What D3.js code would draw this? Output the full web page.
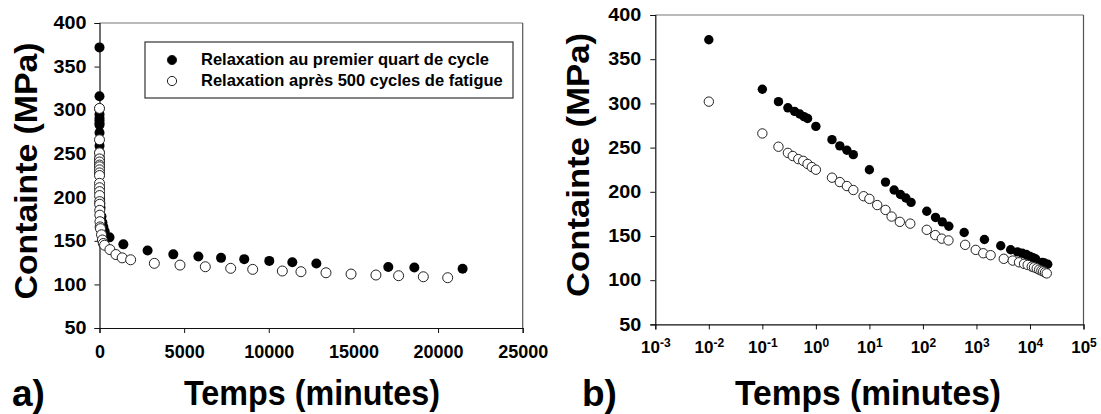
<!DOCTYPE html>
<html><head><meta charset="utf-8">
<script src="https://cdn.jsdelivr.net/npm/d3@7/dist/d3.min.js"></script>
<style>
html,body{margin:0;padding:0;background:#fff;}
svg{display:block;font-family:Arial,"Liberation Sans",sans-serif;}
</style></head>
<body><svg id="c" width="1101" height="414"></svg>
<script>
// Series 1: relaxation au premier quart de cycle (filled)
const filledTime = [0.01,0.1,0.2,0.3,0.4,0.5,0.6,0.7,1.0,2,2.8,3.8,5,10,20,29,38,48,60,118,172,230,305,590,1410,2840,4360,5840,7180,8550,10030,11390,12810,17060,18600,21450];
const filledStress = [372,316,302,295,291,288,285,283,274,259,252,247,242,225,211,202,197,193,188,178,171,166,161,154,146,139,134.5,132,130.5,129,127,125.5,124,120,119.5,118];
// Series 2: relaxation après 500 cycles de fatigue (open)
const openTime = [0.01,0.1,0.2,0.3,0.37,0.47,0.58,0.7,0.84,1.0,2,2.8,3.8,5,7.8,10,14,20,26,37,58,118,170,225,300,615,970,1340,1840,3240,4755,6250,7750,9050,10800,11900,13380,14860,16330,17670,19130,20570];
const openStress = [302,266,251,244,240.5,237,235,231.5,228,225,216,211,206.5,202,195,192,185,179.5,172,166,164,157,151,147,145,140,134.3,130.5,128.3,124.2,122.2,120.3,118.5,117.3,115.4,114.6,113.4,111.9,110.8,110,108.8,107.7];

const seriesNames = ["Relaxation au premier quart de cycle","Relaxation après 500 cycles de fatigue"];
const yTicks = [50,100,150,200,250,300,350,400];
const xTicksLin = [0,5000,10000,15000,20000,25000];
const xTicksLog = [-3,-2,-1,0,1,2,3,4,5];
const yTitle = "Containte (MPa)";
const xTitle = "Temps (minutes)";
const panelLabels = ["a)","b)"];

const FONT = "Arial, 'Liberation Sans', sans-serif";
const svg = d3.select("#c");
const filled = filledTime.map((t,i)=>({t, v: filledStress[i]}));
const open = openTime.map((t,i)=>({t, v: openStress[i]}));

function panel(cfg){
  const g = svg.append("g");
  const x = cfg.x, y = cfg.y;
  const [x0,x1] = x.range(), [y0,y1] = y.range();
  // frame top/right
  g.append("line").attr("x1",x0).attr("x2",x1).attr("y1",y1).attr("y2",y1).attr("stroke","#777").attr("stroke-width",1.2);
  g.append("line").attr("x1",x1).attr("x2",x1).attr("y1",y1).attr("y2",y0).attr("stroke","#555").attr("stroke-width",1.2);
  // y axis
  const ya = g.append("g").attr("transform",`translate(${x0},0)`)
    .call(d3.axisLeft(y).tickValues(yTicks).tickSize(5).tickPadding(cfg.yPad).tickFormat(d3.format("d")));
  ya.select(".domain").attr("stroke","#111").attr("stroke-width",1.2);
  ya.selectAll(".tick line").attr("stroke","#111");
  ya.selectAll("text").attr("font-size",18).attr("font-weight","bold").attr("fill","#000")
    .attr("font-family",FONT)
    .attr("textLength",d=>String(d).length*11).attr("lengthAdjust","spacingAndGlyphs");
  // x axis
  const xa = g.append("g").attr("transform",`translate(0,${y0})`);
  if(cfg.log){
    xa.call(d3.axisBottom(x).tickValues(xTicksLog.map(e=>Math.pow(10,e))).tickSize(5).tickPadding(12).tickFormat(""));
    xa.selectAll(".tick").each(function(d){
      const e = Math.round(Math.log10(d));
      const t = d3.select(this).append("text").attr("y",29).attr("text-anchor","middle")
        .attr("font-size",17).attr("font-weight","bold").attr("fill","#000")
        .attr("font-family",FONT);
      t.append("tspan").text("10");
      t.append("tspan").attr("dy",-6).attr("font-size",12).text(String(e));
    });
  } else {
    xa.call(d3.axisBottom(x).tickValues(xTicksLin).tickSize(5).tickPadding(12).tickFormat(d3.format("d")));
    xa.selectAll("text").attr("font-size",18).attr("font-weight","bold").attr("fill","#000")
      .attr("font-family",FONT);
  }
  xa.select(".domain").attr("stroke","#111").attr("stroke-width",1.2);
  xa.selectAll(".tick line").attr("stroke","#111");
  // points
  g.append("g").selectAll("circle").data(filled).join("circle")
    .attr("cx",d=>x(d.t)).attr("cy",d=>y(d.v)).attr("r",cfg.r).attr("fill","#000");
  g.append("g").selectAll("circle").data(open).join("circle")
    .attr("cx",d=>x(d.t)).attr("cy",d=>y(d.v)).attr("r",cfg.r).attr("fill","#fff").attr("stroke","#222").attr("stroke-width",1);
  // titles
  g.append("text").attr("transform",`translate(${cfg.ytx},${cfg.yty}) rotate(-90)`)
    .attr("text-anchor","middle").attr("font-size",32).attr("font-weight","bold")
    .attr("textLength",cfg.ytLen).attr("lengthAdjust","spacingAndGlyphs").text(yTitle);
  g.append("text").attr("x",cfg.xtx).attr("y",405).attr("text-anchor","middle")
    .attr("font-size",35).attr("font-weight","bold")
    .attr("textLength",cfg.xtLen).attr("lengthAdjust","spacingAndGlyphs").text(xTitle);
  g.append("text").attr("x",cfg.lx).attr("y",406).attr("font-size",37).attr("font-weight","bold").text(cfg.label);
}

panel({
  x: d3.scaleLinear().domain([0,25000]).range([99.5,522.7]),
  y: d3.scaleLinear().domain([50,400]).range([328,23]),
  log:false, r:5, yPad:8,
  ytx:37, yty:171, ytLen:257,
  xtx:312, xtLen:256, lx:12, label:panelLabels[0]
});
panel({
  x: d3.scaleLog().domain([1e-3,1e5]).range([655.3,1083.5]),
  y: d3.scaleLinear().domain([50,400]).range([324.4,15]),
  log:true, r:4.7, yPad:9,
  ytx:589, yty:165, ytLen:264,
  xtx:868, xtLen:266, lx:582, label:panelLabels[1]
});

// legend (panel a)
const lg = svg.append("g");
lg.append("rect").attr("x",145).attr("y",42).attr("width",368).attr("height",56)
  .attr("fill","#fff").attr("stroke","#333").attr("stroke-width",1.2);
const legendRows = [{name:seriesNames[0], fill:"#000", cy:60, by:65},{name:seriesNames[1], fill:"#fff", cy:81, by:86}];
legendRows.forEach(r=>{
  lg.append("circle").attr("cx",172).attr("cy",r.cy).attr("r",4.6).attr("fill",r.fill).attr("stroke","#222").attr("stroke-width",1);
  lg.append("text").attr("x",201).attr("y",r.by).attr("font-size",16.5).attr("font-weight","bold").text(r.name);
});
</script></body></html>
